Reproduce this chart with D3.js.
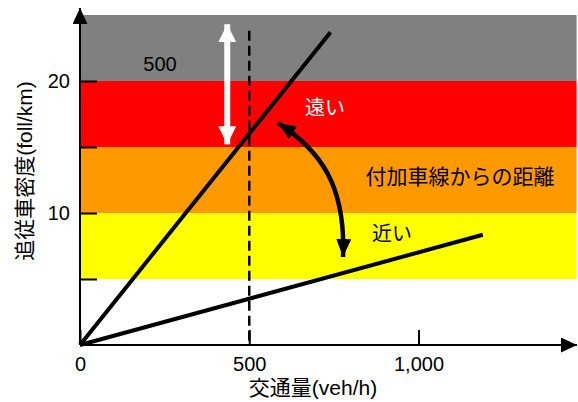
<!DOCTYPE html>
<html>
<head>
<meta charset="utf-8">
<script src="https://cdn.jsdelivr.net/npm/d3@7"></script>
<style>
  body { margin: 0; background: #fff; }
  svg { display: block; font-family: "Liberation Sans", Arial, "Noto Sans CJK JP", sans-serif; }
</style>
</head>
<body>
<svg id="chart" width="578" height="402"></svg>
<script>
// Density bands (foll/km) and their fill colours
const bandLower = [5, 10, 15, 20];
const bandUpper = [10, 15, 20, 25];
const bandColors = ["#ffff00", "#ff9900", "#ff0000", "#808080"];

// Flow–density relationships (veh/h -> foll/km)
const steepFlow = [0, 740];
const steepDensity = [0, 23.7];
const shallowFlow = [0, 1190];
const shallowDensity = [0, 8.35];

// Axis ticks
const xTicks = [0, 500, 1000];
const yTicks = [5, 10, 15, 20];
const yTickLabels = ["", "10", "", "20"];

// Reference flow and the white range arrow
const refFlow = 500;
const refTop = 23.8;
const rangeFlow = 435;
const rangeTop = 24.3;
const rangeBottom = 15.2;

const svg = d3.select("#chart");
const x = d3.scaleLinear().domain([0, 1000]).range([80, 418.5]);
const y = d3.scaleLinear().domain([0, 20]).range([345, 81]);
const xMax = 1467;

// Bands
svg.append("g").selectAll("rect")
  .data(bandLower)
  .join("rect")
  .attr("x", x(0))
  .attr("width", x(xMax) - x(0))
  .attr("y", (d, i) => y(bandUpper[i]))
  .attr("height", (d, i) => y(d) - y(bandUpper[i]))
  .attr("fill", (d, i) => bandColors[i]);

// Arrowhead markers
const defs = svg.append("defs");
function marker(id, color, w, h) {
  defs.append("marker")
    .attr("id", id)
    .attr("viewBox", `0 0 ${w} ${h}`)
    .attr("refX", w).attr("refY", h / 2)
    .attr("markerWidth", w).attr("markerHeight", h)
    .attr("markerUnits", "userSpaceOnUse")
    .attr("orient", "auto-start-reverse")
    .append("path")
    .attr("d", `M0,0L${w},${h / 2}L0,${h}Z`)
    .attr("fill", color);
}
marker("axisHead", "#000", 16, 15);
marker("whiteHead", "#fff", 18, 18);
marker("blackHead", "#000", 18, 15);

// Dashed reference line
svg.append("line")
  .attr("x1", x(refFlow)).attr("x2", x(refFlow))
  .attr("y1", y(refTop)).attr("y2", y(0))
  .attr("stroke", "#000").attr("stroke-width", 2.5)
  .attr("stroke-dasharray", "10,5");

// Flow-density lines
const line = d3.line().x(d => x(d[0])).y(d => y(d[1]));
svg.append("path")
  .attr("d", line(steepFlow.map((f, i) => [f, steepDensity[i]])))
  .attr("stroke", "#000").attr("stroke-width", 4).attr("fill", "none");
svg.append("path")
  .attr("d", line(shallowFlow.map((f, i) => [f, shallowDensity[i]])))
  .attr("stroke", "#000").attr("stroke-width", 4).attr("fill", "none");

// White double-headed range arrow
svg.append("line")
  .attr("x1", x(rangeFlow)).attr("x2", x(rangeFlow))
  .attr("y1", y(rangeTop)).attr("y2", y(rangeBottom))
  .attr("stroke", "#fff").attr("stroke-width", 6)
  .attr("marker-start", "url(#whiteHead)")
  .attr("marker-end", "url(#whiteHead)");

// Curved double-headed arrow between the two lines
svg.append("path")
  .attr("d", "M278,123 C320,150 346,185 343,257")
  .attr("stroke", "#000").attr("stroke-width", 4.5).attr("fill", "none")
  .attr("marker-start", "url(#blackHead)")
  .attr("marker-end", "url(#blackHead)");

// Axis lines with arrowheads
svg.append("line")
  .attr("x1", x(0)).attr("x2", x(0))
  .attr("y1", y(0)).attr("y2", 8)
  .attr("stroke", "#000").attr("stroke-width", 2)
  .attr("marker-end", "url(#axisHead)");
svg.append("line")
  .attr("x1", x(0)).attr("x2", 577)
  .attr("y1", y(0)).attr("y2", y(0))
  .attr("stroke", "#000").attr("stroke-width", 2)
  .attr("marker-end", "url(#axisHead)");

// Y axis ticks (inward) and labels
const yAxis = d3.axisLeft(y)
  .tickValues(yTicks)
  .tickSizeInner(-17).tickSizeOuter(0)
  .tickPadding(10)
  .tickFormat((d, i) => yTickLabels[i]);
const gy = svg.append("g").attr("transform", `translate(${x(0)},0)`).call(yAxis);
gy.select(".domain").remove();
gy.selectAll(".tick line").attr("stroke-width", 2);
gy.selectAll(".tick text").attr("font-size", 20).attr("font-family", null).attr("fill", "#000");

// X axis ticks (inward) and labels
const xAxis = d3.axisBottom(x)
  .tickValues(xTicks)
  .tickSizeInner(-15).tickSizeOuter(0)
  .tickPadding(8)
  .tickFormat(d3.format(","));
const gx = svg.append("g").attr("transform", `translate(0,${y(0)})`).call(xAxis);
gx.select(".domain").remove();
gx.selectAll(".tick line").attr("stroke-width", 2);
gx.selectAll(".tick text").attr("font-size", 20).attr("font-family", null).attr("fill", "#000")
  .attr("dy", "0.9em");

// Annotations
svg.append("text").attr("x", 160).attr("y", 71).attr("text-anchor", "middle")
  .attr("font-size", 20).attr("fill", "#000").text("500");
svg.append("text").attr("x", 325).attr("y", 115).attr("text-anchor", "middle")
  .attr("font-size", 20).attr("fill", "#fff").text("遠い");
svg.append("text").attr("x", 460).attr("y", 184).attr("text-anchor", "middle")
  .attr("font-size", 21).attr("fill", "#000").text("付加車線からの距離");
svg.append("text").attr("x", 392).attr("y", 241).attr("text-anchor", "middle")
  .attr("font-size", 20).attr("fill", "#000").text("近い");

// Axis titles
svg.append("text").attr("x", 313).attr("y", 395).attr("text-anchor", "middle")
  .attr("font-size", 21).attr("fill", "#000").text("交通量(veh/h)");
svg.append("text")
  .attr("transform", "translate(32,171) rotate(-90)")
  .attr("text-anchor", "middle")
  .attr("font-size", 21).attr("fill", "#000").text("追従車密度(foll/km)");
</script>
</body>
</html>
